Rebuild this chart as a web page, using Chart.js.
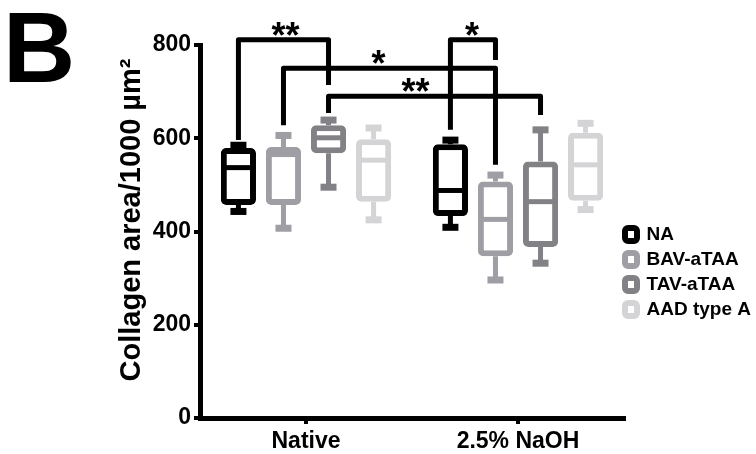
<!DOCTYPE html>
<html>
<head>
<meta charset="utf-8">
<script src="https://cdn.jsdelivr.net/npm/chart.js@4.4.1/dist/chart.umd.min.js"></script>
<style>
  html, body { margin: 0; padding: 0; background: #fff; }
  #wrap { width: 756px; height: 454px; }
</style>
</head>
<body>
<div id="wrap"><canvas id="chart" width="756" height="454"></canvas></div>
<script>
const categories = ['Native', '2.5% NaOH'];
const groups = ['NA', 'BAV-aTAA', 'TAV-aTAA', 'AAD type A'];
const groupColors = ['#000000', '#9f9ea4', '#828185', '#d4d4d6'];

// one row per group, one value per category [Native, 2.5% NaOH]
const whiskerMax = [[585, 596], [606, 521], [639, 618], [622, 632]];
const q3 = [[579, 587], [581, 507], [628, 550], [598, 612]];
const median = [[537, 488], [565, 426], [601, 464], [553, 543]];
const q1 = [[457, 433], [457, 347], [568, 367], [464, 466]];
const whiskerMin = [[443, 409], [407, 296], [495, 332], [425, 447]];

const yTicks = [0, 200, 400, 600, 800];

// significance brackets: [category, group] at each end
const brackets = [
  { from: [0, 0], to: [0, 2], level: 811, ends: [596, 714], label: '**', shift: 2 },
  { from: [0, 1], to: [1, 1], level: 750, ends: [628, 543], label: '*', shift: -11 },
  { from: [0, 2], to: [1, 2], level: 690, ends: [654, 650], label: '**', shift: -19 },
  { from: [1, 0], to: [1, 1], level: 811, ends: [618, 768], label: '*', shift: -1 }
];

const FONT = "'Liberation Sans', Arial, sans-serif";

const boxExtras = {
  id: 'boxExtras',
  afterLayout(chart) {
    // put the legend to the right of the plot, like the original
    const lg = chart.legend;
    lg.left = 619; lg.right = 756;
    lg.top = 219; lg.bottom = 454;
  },
  afterDatasetsDraw(chart) {
    const ctx = chart.ctx;
    const y = chart.scales.y;
    chart.data.datasets.forEach((ds, i) => {
      const meta = chart.getDatasetMeta(i);
      meta.data.forEach((bar, j) => {
        const top = y.getPixelForValue(q3[i][j]);
        const bot = y.getPixelForValue(q1[i][j]);
        const hi = y.getPixelForValue(whiskerMax[i][j]);
        const lo = y.getPixelForValue(whiskerMin[i][j]);
        const med = y.getPixelForValue(median[i][j]);
        ctx.save();
        ctx.strokeStyle = groupColors[i];
        ctx.fillStyle = groupColors[i];
        ctx.lineWidth = 5;
        ctx.beginPath();
        ctx.moveTo(bar.x, top); ctx.lineTo(bar.x, hi);
        ctx.moveTo(bar.x, bot); ctx.lineTo(bar.x, lo);
        ctx.stroke();
        ctx.fillRect(bar.x - 8, hi - 3.5, 16, 7);
        ctx.fillRect(bar.x - 8, lo - 3.5, 16, 7);
        ctx.beginPath();
        ctx.moveTo(bar.x - bar.width / 2 + 3, med);
        ctx.lineTo(bar.x + bar.width / 2 - 3, med);
        ctx.stroke();
        ctx.restore();
      });
    });
  },
  afterDraw(chart) {
    const ctx = chart.ctx;
    const y = chart.scales.y;
    const barX = (c, g) => chart.getDatasetMeta(g).data[c].x;

    ctx.save();
    ctx.strokeStyle = '#000';
    ctx.fillStyle = '#000';
    ctx.lineWidth = 5;
    ctx.lineJoin = 'round';
    ctx.font = 'bold 36px ' + FONT;
    ctx.textAlign = 'center';
    const m = ctx.measureText('*');
    const starMid = (m.actualBoundingBoxDescent - m.actualBoundingBoxAscent) / 2;
    brackets.forEach(b => {
      const x1 = barX(b.from[0], b.from[1]);
      const x2 = barX(b.to[0], b.to[1]);
      const ly = y.getPixelForValue(b.level);
      ctx.beginPath();
      ctx.moveTo(x1, y.getPixelForValue(b.ends[0]));
      ctx.lineTo(x1, ly);
      ctx.lineTo(x2, ly);
      ctx.lineTo(x2, y.getPixelForValue(b.ends[1]));
      ctx.stroke();
      ctx.fillText(b.label, (x1 + x2) / 2 + b.shift, ly - 11 - starMid);
    });

    // panel letter
    ctx.textAlign = 'left';
    ctx.textBaseline = 'alphabetic';
    ctx.font = 'bold 100px ' + FONT;
    ctx.fillText('B', 3, 82);

    // y axis title
    ctx.font = 'bold 29px ' + FONT;
    ctx.translate(140, 220);
    ctx.rotate(-Math.PI / 2);
    ctx.textAlign = 'center';
    ctx.fillText('Collagen area/1000 µm²', 0, 0);
    ctx.restore();
  }
};

new Chart(document.getElementById('chart'), {
  type: 'bar',
  data: {
    labels: categories,
    datasets: groups.map((g, i) => ({
      label: g,
      data: categories.map((c, j) => [q1[i][j], q3[i][j]]),
      backgroundColor: '#ffffff',
      borderColor: groupColors[i],
      borderWidth: 6,
      borderRadius: 5,
      borderSkipped: false,
      categoryPercentage: 0.85,
      barPercentage: 0.78
    }))
  },
  options: {
    responsive: false,
    animation: false,
    layout: { padding: { left: 0, top: 45, right: 132, bottom: 0 } },
    plugins: {
      legend: {
        position: 'chartArea',
        align: 'start',
        labels: {
          color: '#000',
          font: { family: FONT, size: 19, weight: 'bold' },
          boxWidth: 12,
          boxHeight: 13,
          padding: 6,
          useBorderRadius: true,
          borderRadius: 3
        }
      },
      tooltip: { enabled: false }
    },
    scales: {
      x: {
        grid: { offset: false, drawOnChartArea: false, tickLength: 6, lineWidth: 4, color: '#000' },
        border: { width: 5, color: '#000' },
        ticks: { color: '#000', font: { family: FONT, size: 23, weight: 'bold' }, padding: 4 },
        afterFit: s => { s.height = 36; }
      },
      y: {
        min: 0,
        max: 800,
        afterBuildTicks: s => { s.ticks = yTicks.map(v => ({ value: v })); },
        grid: { drawOnChartArea: false, tickLength: 6, lineWidth: 4, color: '#000' },
        border: { width: 5, color: '#000' },
        ticks: { color: '#000', font: { family: FONT, size: 23, weight: 'bold' }, padding: 3 },
        afterFit: s => { s.width = 200; }
      }
    }
  },
  plugins: [boxExtras]
});
</script>
</body>
</html>
